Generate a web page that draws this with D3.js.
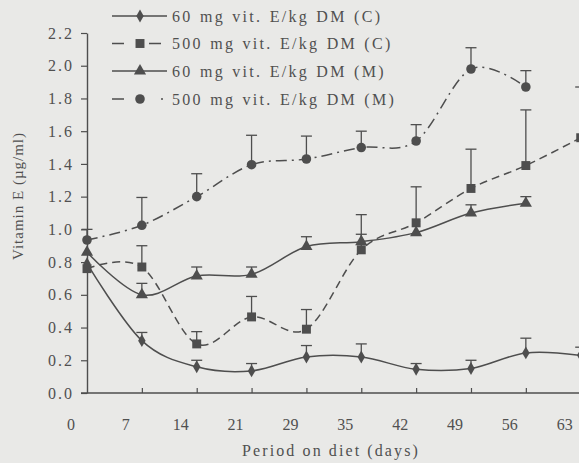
<!DOCTYPE html>
<html><head><meta charset="utf-8">
<script src="https://cdn.jsdelivr.net/npm/d3@7"></script>
<style>
body{margin:0;background:#e9e9e7}
svg{display:block;background:#e9e9e7;font-family:"Liberation Serif","DejaVu Serif",serif}
</style>
</head><body>
<svg id="c" width="579" height="463"></svg>
<script>
// ---- data ----
const xTickLabels = ["0","7","14","21","29","35","42","49","56","63"];
const yTicks = [0,0.2,0.4,0.6,0.8,1.0,1.2,1.4,1.6,1.8,2.0,2.2];
const seriesNames = ["60 mg vit. E/kg DM (C)","500 mg vit. E/kg DM (C)","60 mg vit. E/kg DM (M)","500 mg vit. E/kg DM (M)"];
const vitE_60C  = [0.79, 0.32, 0.16, 0.135, 0.22, 0.22, 0.145, 0.15, 0.245, 0.23];
const err_60C   = [0, 0.05, 0.04, 0.045, 0.07, 0.08, 0.035, 0.05, 0.09, 0.05];
const vitE_500C = [0.76, 0.77, 0.30, 0.465, 0.39, 0.875, 1.04, 1.25, 1.39, 1.56];
const err_500C  = [0, 0.13, 0.075, 0.125, 0.12, 0.215, 0.22, 0.24, 0.34, 0.31];
const vitE_60M  = [0.86, 0.60, 0.715, 0.725, 0.895, 0.925, 0.98, 1.10, 1.16];
const err_60M   = [0, 0.07, 0.055, 0.045, 0.06, 0.045, 0, 0.05, 0.04];
const vitE_500M = [0.935, 1.025, 1.20, 1.395, 1.43, 1.50, 1.54, 1.98, 1.87];
const err_500M  = [0.065, 0.17, 0.14, 0.18, 0.14, 0.10, 0.10, 0.13, 0.10];

// ---- styles ----
const ink = "#4e4e4e";
const styles = [
  {sym: d3.symbolDiamond, size: 48, dash: null,        legendDash: null},
  {sym: d3.symbolSquare,  size: 80, dash: "8,5",       legendDash: "12,25,12"},
  {sym: d3.symbolTriangle,size: 64, dash: null,        legendDash: null},
  {sym: d3.symbolCircle,  size: 72, dash: "11,5,2,5",  legendDash: "12,37,2"}
];
const series = [
  {values: vitE_60C,  err: err_60C},
  {values: vitE_500C, err: err_500C},
  {values: vitE_60M,  err: err_60M},
  {values: vitE_500M, err: err_500M}
];

const svg = d3.select("#c");
const W = 579;
const x = d3.scaleLinear().domain([0, 9]).range([87, 580.7]);
const y = d3.scaleLinear().domain([0, 2.2]).range([393, 33]);

// y axis
const ya = svg.append("g").attr("transform", `translate(${x(0)},0)`)
  .call(d3.axisLeft(y).tickValues(yTicks).tickSize(6).tickSizeOuter(0).tickFormat(d3.format(".1f")));
ya.select(".domain").attr("stroke", ink).attr("stroke-width", 1.4);
ya.selectAll(".tick line").attr("stroke", ink).attr("stroke-width", 1.2);
ya.selectAll(".tick text").attr("x", -13).attr("fill", "#505050")
  .style("font-size", "16px").style("letter-spacing", "2px").style("font-family", "Liberation Serif");

// x axis
svg.append("line").attr("x1", x(0) - 6).attr("x2", W).attr("y1", y(0)).attr("y2", y(0))
  .attr("stroke", ink).attr("stroke-width", 1.4);
const xa = svg.append("g").attr("transform", `translate(0,${y(0)})`)
  .call(d3.axisBottom(x).tickValues(d3.range(1, 10)).tickSize(-5).tickSizeOuter(0).tickFormat(""));
xa.select(".domain").remove();
xa.selectAll(".tick line").attr("stroke", ink).attr("stroke-width", 1.2);
svg.append("g").selectAll("text").data(xTickLabels).join("text")
  .attr("x", (d, i) => x(i) - 16).attr("y", 430)
  .attr("text-anchor", "middle").attr("fill", "#505050")
  .style("font-size", "16px").text(d => d);

// axis titles
svg.append("text").attr("x", 331).attr("y", 456).attr("text-anchor", "middle")
  .attr("fill", "#505050").style("font-size", "16px").style("letter-spacing", "2.1px")
  .text("Period on diet (days)");
svg.append("text").attr("transform", "translate(23,196) rotate(-90)").attr("text-anchor", "middle")
  .attr("fill", "#505050").style("font-size", "15px").style("letter-spacing", "1px")
  .text("Vitamin E (µg/ml)");

// lines
const line = d3.line().x((d, i) => x(i)).y(d => y(d)).curve(d3.curveCardinal.tension(0));
series.forEach((s, k) => {
  const st = styles[k];
  svg.append("path").attr("d", line(s.values)).attr("fill", "none")
    .attr("stroke", ink).attr("stroke-width", 1.5)
    .attr("stroke-dasharray", st.dash);
});
// error bars
series.forEach((s, k) => {
  const g = svg.append("g").attr("stroke", ink).attr("stroke-width", 1.3);
  s.values.forEach((v, i) => {
    const e = s.err[i];
    if (!e) return;
    g.append("line").attr("x1", x(i)).attr("x2", x(i)).attr("y1", y(v)).attr("y2", y(v + e));
    g.append("line").attr("x1", x(i) - 5.5).attr("x2", x(i) + 5.5).attr("y1", y(v + e)).attr("y2", y(v + e));
  });
});
// markers
series.forEach((s, k) => {
  const st = styles[k];
  svg.append("g").selectAll("path").data(s.values).join("path")
    .attr("transform", (d, i) => `translate(${x(i)},${y(d)})`)
    .attr("d", d3.symbol().type(st.sym).size(st.size)).attr("fill", ink);
});

// legend
const legY = [16, 43.5, 71, 99];
seriesNames.forEach((name, k) => {
  const st = styles[k];
  const g = svg.append("g").attr("transform", `translate(0,${legY[k]})`);
  g.append("line").attr("x1", 112).attr("x2", 167).attr("y1", 0).attr("y2", 0)
    .attr("stroke", ink).attr("stroke-width", 1.5).attr("stroke-dasharray", st.legendDash);
  g.append("path").attr("transform", "translate(140,0)")
    .attr("d", d3.symbol().type(st.sym).size(st.size)).attr("fill", ink);
  g.append("text").attr("x", 172).attr("y", 5.5).attr("fill", "#505050")
    .style("font-size", "16px").style("letter-spacing", "2.3px").style("word-spacing", "1px")
    .text(name);
});
</script>
</body></html>
